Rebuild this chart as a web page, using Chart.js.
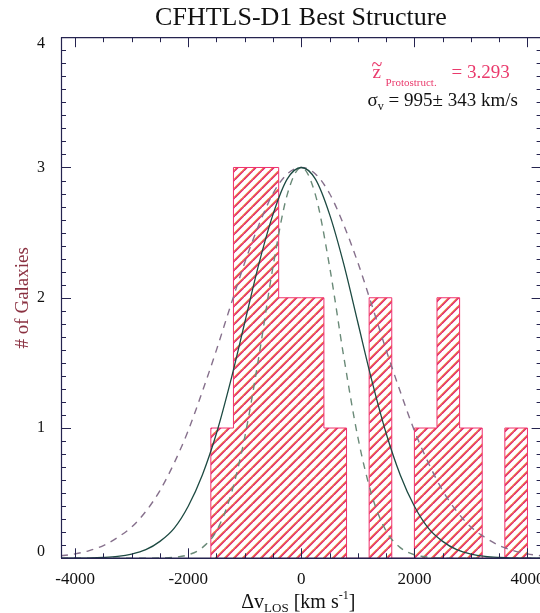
<!DOCTYPE html>
<html>
<head>
<meta charset="utf-8">
<script src="https://cdn.jsdelivr.net/npm/chart.js@4/dist/chart.umd.min.js"></script>
<style>
  html, body { margin: 0; padding: 0; background: #fff; overflow: hidden; width: 540px; height: 613px; }
  canvas { display: block; }
</style>
</head>
<body>
<canvas id="c" width="602" height="613"></canvas>
<script>
// ---------------- data ----------------
const binEdges = [-1600, -1200, -800, -400, 0, 400, 800, 1200, 1600, 2000, 2400, 2800, 3200, 3600, 4000];
const binCounts = [1, 3, 3, 2, 2, 1, 0, 2, 0, 1, 2, 1, 0, 1];

const curveV = [-4250, -4000, -3750, -3500, -3250, -3000, -2750, -2500, -2250, -2000, -1750, -1500, -1250, -1000, -750, -500, -250,
                0, 250, 500, 750, 1000, 1250, 1500, 1750, 2000, 2250, 2500, 2750, 3000, 3250, 3500, 3750, 4000, 4250];
// solid fit (sigma = 995 km/s)
const fitBest = [0.000, 0.001, 0.002, 0.006, 0.014, 0.032, 0.066, 0.13, 0.23, 0.40, 0.64, 0.96, 1.36, 1.81, 2.26, 2.64, 2.91,
                 3.00, 2.91, 2.64, 2.26, 1.81, 1.36, 0.96, 0.64, 0.40, 0.23, 0.13, 0.066, 0.032, 0.014, 0.006, 0.002, 0.001, 0.000];
// dashed, narrow (sigma - err)
const fitLow = [0, 0, 0, 0, 0, 0, 0, 0.002, 0.008, 0.027, 0.082, 0.21, 0.48, 0.93, 1.55, 2.24, 2.79,
                3.00, 2.79, 2.24, 1.55, 0.93, 0.48, 0.21, 0.082, 0.027, 0.008, 0.002, 0, 0, 0, 0, 0, 0, 0];
// dashed, wide (sigma + err)
const fitHigh = [0.019, 0.034, 0.059, 0.098, 0.16, 0.24, 0.36, 0.52, 0.73, 0.98, 1.28, 1.60, 1.94, 2.27, 2.56, 2.80, 2.95,
                 3.00, 2.95, 2.80, 2.56, 2.27, 1.94, 1.60, 1.28, 0.98, 0.73, 0.52, 0.36, 0.24, 0.16, 0.098, 0.059, 0.034, 0.019];

const xTickValues = [-4000, -2000, 0, 2000, 4000];
const yTickValues = [0, 1, 2, 3, 4];

const titleText = 'CFHTLS-D1 Best Structure';
const yTitleText = '# of Galaxies';
const zLabel = 'Protostruct.';
const zValue = '= 3.293';
const sigmaText = ' = 995\u00b1 343 km/s';

// ---------------- styles ----------------
const SERIF = '"Liberation Serif", "Times New Roman", serif';
const axisColor = '#25234f';
const histLine = '#f0306e';
const pink = '#ea3a6c';

function makeHatch() {
  const p = 9;
  const c = document.createElement('canvas');
  c.width = p; c.height = p;
  const g = c.getContext('2d');
  g.lineWidth = 1.3;
  function diag(off, color) {
    g.strokeStyle = color;
    g.beginPath();
    for (const k of [-p, 0, p]) { g.moveTo(k + off, p); g.lineTo(k + off + p, 0); }
    g.stroke();
  }
  diag(-0.7, '#f0883a');
  diag(0.7, '#e0206a');
  return g.createPattern(c, 'repeat');
}

// histogram outline points (stepped) built from the bins
const histPts = [{ x: binEdges[0], y: 0 }];
binCounts.forEach((c, i) => histPts.push({ x: binEdges[i], y: c }));
histPts.push({ x: binEdges[binEdges.length - 1], y: 0 });

const toXY = arr => arr.map((v, i) => ({ x: curveV[i], y: v }));

// ---------------- plugins ----------------
const framePlugin = {
  id: 'frameTicks',
  afterDatasetsDraw(chart) {
    const { ctx, chartArea: a } = chart;
    const xs = chart.scales.x, ys = chart.scales.y;
    ctx.save();
    ctx.strokeStyle = axisColor;
    ctx.lineWidth = 1;
    ctx.beginPath();
    for (let v = -4000; v <= 4000; v += 500) {
      const px = Math.round(xs.getPixelForValue(v)) + 0.5;
      const len = (v % 2000 === 0) ? 10 : 5;
      ctx.moveTo(px, a.bottom); ctx.lineTo(px, a.bottom - len);
      ctx.moveTo(px, a.top); ctx.lineTo(px, a.top + len);
    }
    for (let i = 0; i <= 40; i++) {
      const py = Math.round(ys.getPixelForValue(i / 10)) + 0.5;
      const len = (i % 10 === 0) ? 10 : 5;
      ctx.moveTo(a.left, py); ctx.lineTo(a.left + len, py);
      ctx.moveTo(a.right, py); ctx.lineTo(a.right - len, py);
    }
    ctx.stroke();
    ctx.beginPath();
    ctx.lineWidth = 1.2;
    ctx.moveTo(a.left + 0.5, a.top + 0.5);
    ctx.lineTo(a.right - 0.5, a.top + 0.5);
    ctx.lineTo(a.right - 0.5, a.bottom);
    ctx.moveTo(a.left + 0.5, a.top);
    ctx.lineTo(a.left + 0.5, a.bottom);
    ctx.stroke();
    ctx.beginPath();
    ctx.lineWidth = 1.6;
    ctx.moveTo(a.left, a.bottom);
    ctx.lineTo(a.right, a.bottom);
    ctx.stroke();
    ctx.restore();
  }
};

const textPlugin = {
  id: 'richText',
  afterDraw(chart) {
    const { ctx, chartArea: a } = chart;
    ctx.save();
    ctx.textBaseline = 'alphabetic';
    ctx.textAlign = 'left';
    // annotation line 1
    const x0 = a.right - 174;
    ctx.fillStyle = pink;
    ctx.font = '19px ' + SERIF;
    ctx.fillText('z', x0 + 5, 78);
    ctx.font = '20px ' + SERIF;
    ctx.fillText('~', x0 + 4, 71);
    ctx.font = '11px ' + SERIF;
    ctx.fillText(zLabel, x0 + 18, 86);
    ctx.font = '19px ' + SERIF;
    ctx.fillText(zValue, x0 + 84, 78);
    // annotation line 2
    ctx.fillStyle = '#111';
    ctx.font = '19px ' + SERIF;
    ctx.fillText('\u03c3', x0, 106);
    let w = ctx.measureText('\u03c3').width;
    ctx.font = '12px ' + SERIF;
    ctx.fillText('v', x0 + w, 110);
    w += ctx.measureText('v').width;
    ctx.font = '19px ' + SERIF;
    ctx.fillText(sigmaText, x0 + w, 106);

    // x axis title with sub/superscripts
    const parts = [
      { t: '\u0394v', size: 20, dy: 0 },
      { t: 'LOS', size: 13, dy: 4 },
      { t: ' [km s', size: 20, dy: 0 },
      { t: '-1', size: 12, dy: -9 },
      { t: ']', size: 20, dy: 0 }
    ];
    let total = 0;
    parts.forEach(p => { ctx.font = p.size + 'px ' + SERIF; p.w = ctx.measureText(p.t).width; total += p.w; });
    let cx = (a.left + a.right) / 2 - 3 - total / 2;
    const base = 608;
    ctx.fillStyle = '#111';
    parts.forEach(p => { ctx.font = p.size + 'px ' + SERIF; ctx.fillText(p.t, cx, base + p.dy); cx += p.w; });
    ctx.restore();
  }
};

// ---------------- chart ----------------
new Chart(document.getElementById('c'), {
  type: 'line',
  data: {
    datasets: [
      {
        label: 'histogram',
        data: histPts,
        stepped: 'before',
        fill: 'origin',
        backgroundColor: makeHatch(),
        borderColor: histLine,
        borderWidth: 1,
        pointRadius: 0,
        order: 10
      },
      {
        label: 'fit',
        data: toXY(fitBest),
        borderColor: '#1d4a42',
        borderWidth: 1.3,
        pointRadius: 0,
        cubicInterpolationMode: 'monotone',
        fill: false,
        order: 1
      },
      {
        label: 'fit low',
        data: toXY(fitLow),
        borderColor: '#6a8a78',
        borderWidth: 1.4,
        borderDash: [7, 6],
        pointRadius: 0,
        cubicInterpolationMode: 'monotone',
        fill: false,
        order: 2
      },
      {
        label: 'fit high',
        data: toXY(fitHigh),
        borderColor: '#86708c',
        borderWidth: 1.4,
        borderDash: [7, 6],
        pointRadius: 0,
        cubicInterpolationMode: 'monotone',
        fill: false,
        order: 3
      }
    ]
  },
  options: {
    responsive: false,
    animation: false,
    devicePixelRatio: 1,
    layout: { padding: 0 },
    plugins: {
      legend: { display: false },
      tooltip: { enabled: false },
      title: {
        display: true,
        text: titleText,
        color: '#111',
        font: { family: SERIF, size: 26, weight: 'normal' },
        padding: { top: 3, bottom: 3 }
      }
    },
    scales: {
      x: {
        type: 'linear',
        min: -4250,
        max: 4250,
        afterBuildTicks: s => { s.ticks = xTickValues.map(v => ({ value: v })); },
        afterFit: s => { s.height = 54.7; },
        grid: { display: false },
        border: { display: false },
        ticks: {
          color: '#111',
          padding: 3,
          maxRotation: 0,
          font: { family: SERIF, size: 17 },
          callback: v => String(v)
        }
      },
      y: {
        type: 'linear',
        min: 0,
        max: 4,
        afterBuildTicks: s => { s.ticks = yTickValues.map(v => ({ value: v })); },
        afterFit: s => { s.width = 61; },
        grid: { display: false },
        border: { display: false },
        title: {
          display: true,
          text: yTitleText,
          color: '#8a3040',
          font: { family: SERIF, size: 19 },
          padding: { top: 12, bottom: 0 }
        },
        ticks: {
          color: '#111',
          padding: 8,
          font: { family: SERIF, size: 16, lineHeight: 0.85 },
          callback: v => (v === 4 ? ['', '4'] : v === 0 ? ['0', ''] : String(v))
        }
      },
      yR: {
        type: 'linear',
        position: 'right',
        display: true,
        min: 0,
        max: 4,
        afterFit: s => { s.width = 60.4; },
        grid: { display: false },
        border: { display: false },
        ticks: { display: false }
      }
    }
  },
  plugins: [framePlugin, textPlugin]
});
</script>
</body>
</html>
